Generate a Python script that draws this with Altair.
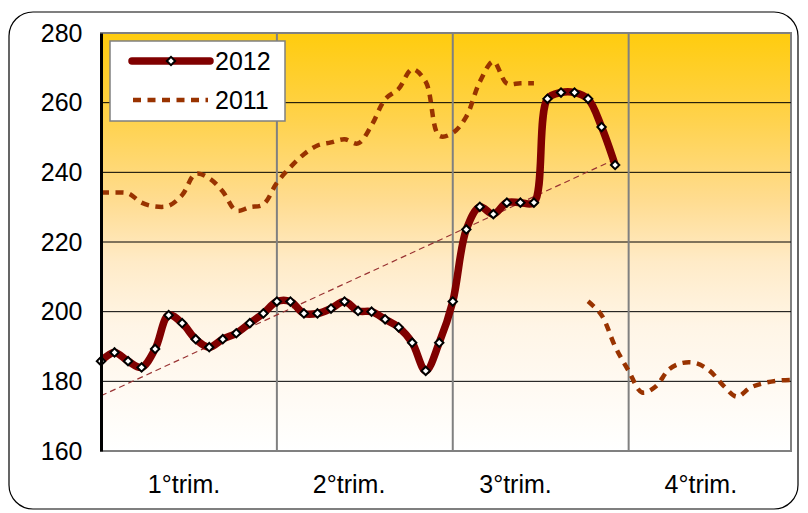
import altair as alt
import pandas as pd

# ---------------- data ----------------
weeks_2012 = list(range(1, 40))
values_2012 = [185.8, 188.3, 185.8, 184.0, 189.3, 199.0, 196.7, 192.1, 189.8, 192.1,
               193.8, 196.7, 199.5, 202.9, 202.9, 199.5, 199.5, 200.9, 202.9, 200.2,
               200.0, 197.8, 195.5, 191.1, 183.0, 191.1, 202.9, 223.6, 230.1, 228.0,
               231.3, 231.3, 231.3, 261.1, 262.9, 262.9, 261.1, 253.0, 242.1]

weeks_2011 = list(range(1, 53))
values_2011 = [234.2, 234.2, 234.0, 231.3, 230.2, 230.4, 233.5, 239.6, 238.3, 234.5,
               229.0, 230.0, 230.8, 237.0, 241.5, 245.2, 247.7, 248.6, 249.5, 248.3,
               253.5, 261.0, 264.0, 269.6, 266.0, 250.5, 251.3, 256.0, 266.0, 271.8,
               265.5, 265.6, 265.6, None, None, None, 203.0, 199.0, 190.0, 183.0,
               176.8, 178.5, 183.5, 185.3, 185.2, 183.0, 178.8, 175.6, 178.2, 179.5,
               180.2, 180.4]

y_ticks = [160, 180, 200, 220, 240, 260, 280]
h_grid = [180, 200, 220, 240, 260]
quarter_bounds = [14, 27, 40]
quarter_labels = ["1°trim.", "2°trim.", "3°trim.", "4°trim."]
quarter_label_pos = [7.1, 19.3, 31.6, 45.3]
legend_labels = ["2012", "2011"]

FONT = "Liberation Sans"
FS = 25
C2012 = "#800000"
C2011 = "#993300"

df12 = pd.DataFrame({"week": weeks_2012, "value": values_2012})

rows = []
seg = 0
for w, v in zip(weeks_2011, values_2011):
    if v is None:
        seg += 1
        continue
    rows.append({"week": w, "value": v, "seg": seg})
df11 = pd.DataFrame(rows)

xscale = alt.Scale(domain=[1, 52], nice=False, zero=False)
yscale = alt.Scale(domain=[160, 280], nice=False, zero=False)

label_expr = (
    f"datum.value < {quarter_bounds[0]} ? '{quarter_labels[0]}' : "
    f"datum.value < {quarter_bounds[1]} ? '{quarter_labels[1]}' : "
    f"datum.value < {quarter_bounds[2]} ? '{quarter_labels[2]}' : '{quarter_labels[3]}'"
)
xaxis = alt.Axis(values=quarter_label_pos, labelExpr=label_expr, domain=False, ticks=False,
                 grid=False, labelPadding=21, labelFontSize=FS, labelFont=FONT,
                 labelColor="black", title=None, labelFlush=False, labelOverlap=False, zindex=1)
yaxis = alt.Axis(values=y_ticks, grid=False, ticks=False, domain=True, domainColor="black",
                 domainWidth=3, labelPadding=19, labelFontSize=FS, labelFont=FONT,
                 labelColor="black", title=None, zindex=1)

X = alt.X("week:Q", scale=xscale, axis=xaxis)
Y = alt.Y("value:Q", scale=yscale, axis=yaxis)

gradient = alt.LinearGradient(
    gradient="linear",
    stops=[
        alt.GradientStop(color="#FFCC0E", offset=0),
        alt.GradientStop(color="#FFD24A", offset=0.2),
        alt.GradientStop(color="#FFDC90", offset=0.4),
        alt.GradientStop(color="#FFEBC8", offset=0.55),
        alt.GradientStop(color="#FFF5E6", offset=0.7),
        alt.GradientStop(color="#FFFFFF", offset=1),
    ],
    x1=0, x2=0, y1=0, y2=1,
)

bg_df = pd.DataFrame({"week": [1], "week_end": [52], "value": [160], "value_end": [280]})
background = alt.Chart(bg_df).mark_rect(fill=gradient, stroke="#808080", strokeWidth=2).encode(
    x=X, x2="week_end:Q", y=Y, y2="value_end:Q")

hgrid = alt.Chart(pd.DataFrame({"value": h_grid})).mark_rule(color="black", strokeWidth=1).encode(y=Y)
vgrid = alt.Chart(pd.DataFrame({"week": quarter_bounds})).mark_rule(color="#808080", strokeWidth=2).encode(x=X)

line11 = alt.Chart(df11).mark_line(color=C2011, strokeWidth=4.5, strokeDash=[8, 6.5],
                                   interpolate="catmull-rom").encode(x=X, y=Y, detail="seg:N")

trend = alt.Chart(df12).transform_regression("week", "value").mark_line(
    color="#993333", strokeWidth=1.2, strokeDash=[6, 4]).encode(x=X, y=Y)

line12 = alt.Chart(df12).mark_line(color=C2012, strokeWidth=7.5, strokeCap="round", strokeJoin="round",
                                   interpolate="catmull-rom").encode(x=X, y=Y)
pts12 = alt.Chart(df12).mark_point(shape="diamond", filled=True, fill="white", stroke="black",
                                   strokeWidth=2, size=70, opacity=1).encode(x=X, y=Y)

one = pd.DataFrame({"a": [0]})
leg_box = alt.Chart(one).mark_rect(fill="white", stroke="#808080", strokeWidth=1.5).encode(
    x=alt.value(9), x2=alt.value(184), y=alt.value(8), y2=alt.value(88))
leg_l1 = alt.Chart(one).mark_rule(color=C2012, strokeWidth=7.5, strokeCap="round").encode(
    x=alt.value(31), x2=alt.value(109), y=alt.value(28))
leg_p1 = alt.Chart(one).mark_point(shape="diamond", filled=True, fill="white", stroke="black",
                                   strokeWidth=2, size=70, opacity=1).encode(
    x=alt.value(70), y=alt.value(28))
leg_l2 = alt.Chart(one).mark_rule(color=C2011, strokeWidth=4.5, strokeDash=[8, 6.5]).encode(
    x=alt.value(32), x2=alt.value(107), y=alt.value(67))
leg_t1 = alt.Chart(pd.DataFrame({"label": [legend_labels[0]]})).mark_text(
    align="left", baseline="middle", fontSize=FS, font=FONT, color="black").encode(
    x=alt.value(114), y=alt.value(29), text="label:N")
leg_t2 = alt.Chart(pd.DataFrame({"label": [legend_labels[1]]})).mark_text(
    align="left", baseline="middle", fontSize=FS, font=FONT, color="black").encode(
    x=alt.value(114), y=alt.value(68), text="label:N")

border = alt.Chart(one).mark_rect(fill="transparent", stroke="black", strokeWidth=1.2,
                                  cornerRadius=24).encode(
    x=alt.value(-92), x2=alt.value(697), y=alt.value(-21), y2=alt.value(476))

chart = alt.layer(
    background, hgrid, vgrid, line11, trend, line12, pts12,
    leg_box, leg_l1, leg_p1, leg_l2, leg_t1, leg_t2, border
).properties(
    width=690, height=418,
    autosize=alt.AutoSizeParams(type="none"),
    padding={"left": 93, "top": 25, "right": 9, "bottom": 60},
).configure(background="white").configure_view(strokeWidth=0)

chart.save("out.html", embed_options={"renderer": "svg", "actions": False})
